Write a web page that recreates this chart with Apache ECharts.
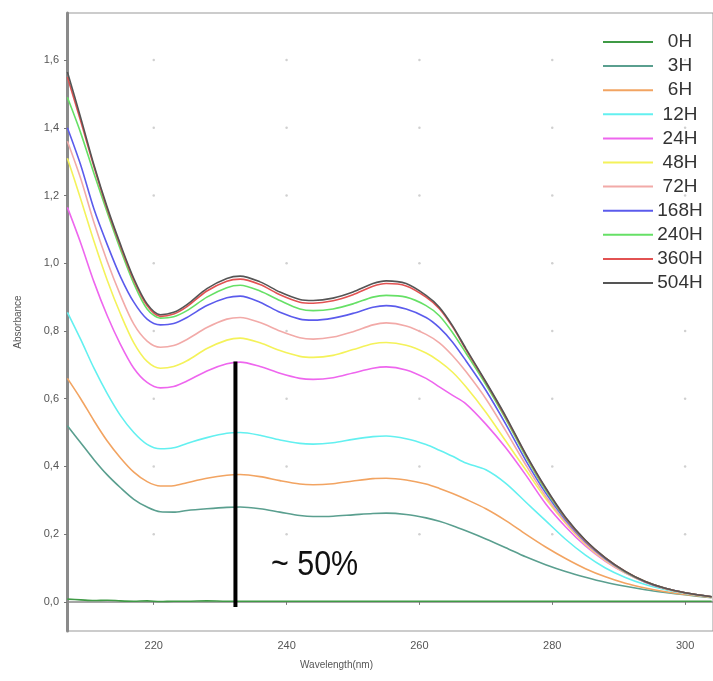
<!DOCTYPE html>
<html><head><meta charset="utf-8">
<script src="https://cdn.jsdelivr.net/npm/echarts@6/dist/echarts.min.js"></script>
<style>html,body{margin:0;padding:0;background:#fff}#c{width:713px;height:681px}</style>
</head><body><div id="c"></div>
<script>
const wavelengths = [207,209,211,213,215,217,219,221,223,225,228,231,233,236,239,242,244,247,250,253,255,258,261,263,265,267,270,273,276,279,282,285,288,291,294,297,300,304];
const seriesNames = ['0H','3H','6H','12H','24H','48H','72H','168H','240H','360H','504H'];
const colors = ['#3f9a45','#5a9f8f','#f2a462','#63f0f0','#ee66ee','#f4f25a','#f2aaa8','#5b5bec','#66e066','#e25252','#555555'];
const abs0H   = [0.008,0.006,0.004,0.005,0.003,0.002,0.003,0.001,0.002,0.002,0.003,0.002,0.002,0.002,0.002,0.002,0.002,0.002,0.002,0.002,0.002,0.002,0.002,0.002,0.002,0.002,0.002,0.002,0.002,0.002,0.002,0.002,0.002,0.002,0.002,0.002,0.002,0.002];
const abs3H   = [0.52,0.47,0.42,0.375,0.337,0.303,0.28,0.266,0.265,0.27,0.275,0.279,0.28,0.275,0.265,0.255,0.252,0.253,0.257,0.261,0.262,0.258,0.248,0.238,0.225,0.21,0.186,0.16,0.133,0.11,0.09,0.073,0.058,0.046,0.036,0.028,0.021,0.012];
const abs6H   = [0.66,0.6,0.535,0.475,0.425,0.383,0.355,0.342,0.343,0.352,0.365,0.374,0.376,0.37,0.358,0.348,0.346,0.349,0.357,0.364,0.365,0.36,0.348,0.335,0.32,0.303,0.275,0.24,0.2,0.162,0.128,0.098,0.074,0.055,0.041,0.03,0.022,0.013];
const abs12H  = [0.855,0.775,0.69,0.615,0.55,0.5,0.465,0.452,0.455,0.468,0.485,0.498,0.5,0.492,0.478,0.468,0.466,0.47,0.48,0.488,0.49,0.482,0.465,0.448,0.43,0.41,0.39,0.35,0.295,0.24,0.185,0.138,0.1,0.072,0.051,0.036,0.025,0.014];
const abs24H  = [1.165,1.06,0.945,0.845,0.76,0.69,0.648,0.632,0.636,0.652,0.682,0.703,0.708,0.695,0.675,0.66,0.657,0.662,0.676,0.69,0.694,0.685,0.66,0.635,0.61,0.585,0.525,0.455,0.375,0.29,0.222,0.165,0.12,0.085,0.058,0.039,0.026,0.014];
const abs48H  = [1.31,1.19,1.065,0.95,0.85,0.765,0.71,0.69,0.695,0.712,0.748,0.773,0.779,0.765,0.742,0.725,0.722,0.728,0.745,0.762,0.766,0.758,0.735,0.71,0.678,0.635,0.56,0.475,0.39,0.305,0.232,0.17,0.122,0.086,0.058,0.039,0.026,0.014];
const abs72H  = [1.36,1.25,1.12,1.005,0.905,0.82,0.77,0.752,0.757,0.775,0.81,0.835,0.84,0.825,0.8,0.78,0.776,0.782,0.798,0.818,0.824,0.815,0.79,0.765,0.727,0.68,0.6,0.505,0.405,0.312,0.235,0.173,0.124,0.087,0.058,0.039,0.026,0.015];
const abs168H = [1.40,1.29,1.16,1.055,0.96,0.885,0.835,0.818,0.822,0.84,0.875,0.898,0.903,0.885,0.855,0.835,0.832,0.838,0.852,0.87,0.875,0.865,0.84,0.81,0.767,0.712,0.625,0.525,0.418,0.322,0.242,0.177,0.127,0.088,0.059,0.04,0.027,0.015];
const abs240H = [1.49,1.385,1.265,1.15,1.04,0.94,0.865,0.838,0.842,0.86,0.9,0.928,0.935,0.918,0.89,0.865,0.86,0.865,0.88,0.9,0.905,0.9,0.875,0.845,0.795,0.735,0.642,0.54,0.43,0.33,0.246,0.18,0.129,0.089,0.06,0.04,0.027,0.015];
const abs360H = [1.55,1.42,1.285,1.16,1.05,0.95,0.875,0.843,0.85,0.872,0.918,0.947,0.953,0.937,0.907,0.885,0.882,0.889,0.907,0.932,0.94,0.933,0.9,0.866,0.812,0.745,0.648,0.545,0.435,0.335,0.248,0.181,0.13,0.09,0.06,0.04,0.027,0.015];
const abs504H = [1.565,1.43,1.29,1.165,1.055,0.955,0.88,0.848,0.855,0.878,0.925,0.955,0.962,0.945,0.915,0.893,0.89,0.897,0.915,0.94,0.948,0.94,0.905,0.87,0.815,0.748,0.65,0.548,0.437,0.337,0.25,0.182,0.13,0.09,0.06,0.04,0.027,0.015];
const allAbs = [abs0H,abs3H,abs6H,abs12H,abs24H,abs48H,abs72H,abs168H,abs240H,abs360H,abs504H];
const xTicks = [220,240,260,280,300];
const yTicks = [0,0.2,0.4,0.6,0.8,1.0,1.2,1.4,1.6];
const markerWavelength = 232.3;
const markerRange = [-0.015, 0.71];
const annotationText = '~ 50%';
const xAxisName = 'Wavelength(nm)';
const yAxisName = 'Absorbance';

const chart = echarts.init(document.getElementById('c'));
const series = seriesNames.map((n,i)=>({
  name:n, type:'line', smooth:0.3, showSymbol:false, symbol:'none',
  data: wavelengths.map((w,j)=>[w, allAbs[i][j]]),
  lineStyle:{color:colors[i], width:1.6}, itemStyle:{color:colors[i]}, z:3+i
}));
const dots = [];
xTicks.forEach(x=>yTicks.forEach(y=>{ if(y>0) dots.push([x,y]); }));
series.unshift({name:'grid', type:'scatter', data:dots, symbolSize:2.5, itemStyle:{color:'#c4c4c4'}, silent:true, z:1});
series.push({name:'marker', type:'line', data:[[markerWavelength,markerRange[0]],[markerWavelength,markerRange[1]]], symbol:'none', lineStyle:{color:'#000', width:4}, silent:true, z:20});

chart.setOption({
  animation:false,
  backgroundColor:'#fff',
  grid:{left:67, top:13, right:0, bottom:50, show:true, borderColor:'#999', borderWidth:1},
  xAxis:{type:'value', min:206.94, max:304.2,
    axisLine:{show:true, lineStyle:{color:'#888', width:1.5}},
    axisTick:{show:true, customValues:xTicks, length:3, lineStyle:{color:'#777'}},
    axisLabel:{customValues:xTicks, color:'#555', fontSize:11, fontFamily:'Liberation Sans', margin:9},
    splitLine:{show:false}},
  yAxis:{type:'value', min:-0.086, max:1.739,
    name:yAxisName, nameLocation:'middle', nameGap:44, nameTextStyle:{color:'#555', fontSize:10, fontFamily:'Liberation Sans'},
    axisLine:{show:true, lineStyle:{color:'#8a8a8a', width:3}},
    axisTick:{show:true, customValues:yTicks, length:3, lineStyle:{color:'#777'}},
    axisLabel:{customValues:yTicks, color:'#555', fontSize:11, fontFamily:'Liberation Sans', margin:8,
      formatter:v=>v.toFixed(1).replace('.',',')},
    splitLine:{show:false}},
  legend:{data:seriesNames, orient:'vertical', left:598, top:26, icon:'rect', itemWidth:50, itemHeight:2, itemGap:2.1,
    formatter:n=>'{t|'+n+'}',
    textStyle:{color:'#333', fontFamily:'Liberation Sans', fontSize:19, lineHeight:22,
      rich:{t:{width:44, align:'center', fontSize:19, lineHeight:22, color:'#333', fontFamily:'Liberation Sans'}}}},
  graphic:[
    {type:'text', left:271, top:548, scaleX:0.87, style:{text:annotationText, fontSize:35, fill:'#111', fontFamily:'Liberation Sans'}},
    {type:'text', left:300, top:660, style:{text:xAxisName, fontSize:10, fill:'#555', fontFamily:'Liberation Sans'}}
  ],
  series:series
});
</script></body></html>
